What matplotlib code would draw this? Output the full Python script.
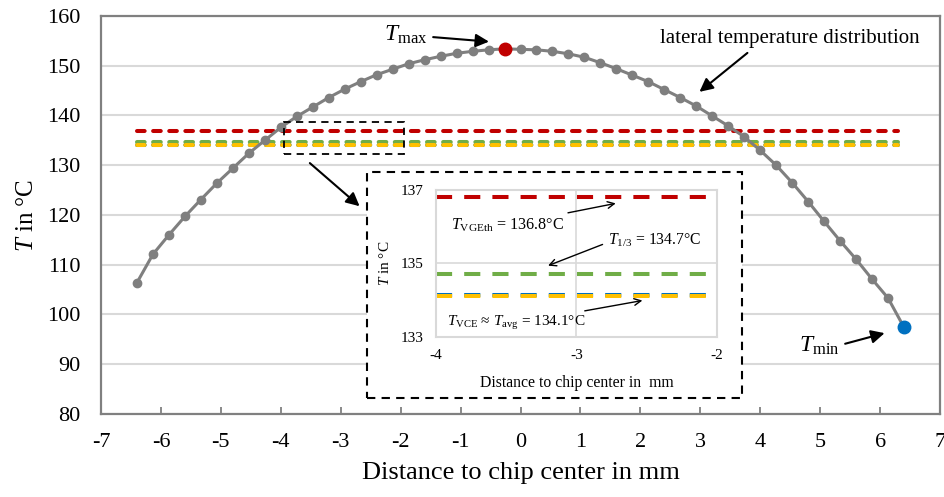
import numpy as np
import matplotlib
matplotlib.use("Agg")
import matplotlib.pyplot as plt
from matplotlib.patches import Rectangle

plt.rcParams["font.family"] = ["Liberation Serif", "DejaVu Serif"]
plt.rcParams["mathtext.fontset"] = "custom"
plt.rcParams["mathtext.rm"] = "Liberation Serif"
plt.rcParams["mathtext.it"] = "Liberation Serif:italic"
plt.rcParams["axes.unicode_minus"] = False

# Lateral temperature profile across the chip (49 points, 0.2667 mm pitch)
position_mm = np.linspace(-6.4, 6.4, 49)
temperature = [
    106.4, 112.1, 116.0, 119.7, 123.1, 126.4, 129.4, 132.4, 135.0, 137.6,
    139.8, 141.7, 143.6, 145.3, 146.8, 148.2, 149.3, 150.4, 151.2, 151.9,
    152.5, 152.9, 153.2, 153.4, 153.3, 153.2, 152.9, 152.4, 151.7, 150.6,
    149.4, 148.1, 146.8, 145.2, 143.6, 141.9, 139.9, 137.9, 135.7, 133.0,
    130.0, 126.5, 122.7, 118.7, 114.8, 111.1, 107.1, 103.3, 97.4,
]
i_max = int(np.argmax(temperature))
i_min = int(np.argmin(temperature))

# Characteristic temperatures
t_vgeth = 136.8
t_13 = 134.7
t_vce = 134.14
t_avg = 134.1
ref_span = [-6.4, 6.3]

gray = "#7f7f7f"
red = "#c00000"
green = "#70ad47"
yellow = "#ffc000"
blue = "#0070c0"
grid_c = "#d9d9d9"

fig = plt.figure(figsize=(9.44, 4.97), dpi=100)
ax = fig.add_axes([101 / 944, 1 - 414 / 497, 839 / 944, 398 / 497])

ax.set_xlim(-7, 7)
ax.set_ylim(80, 160)
ax.set_xticks(np.arange(-7, 8, 1))
ax.set_yticks(np.arange(80, 161, 10))
ax.grid(axis="y", color=grid_c, lw=1.5)
ax.set_axisbelow(True)
for s in ax.spines.values():
    s.set_color("#808080")
    s.set_linewidth(1.6)
ax.tick_params(axis="x", direction="in", length=5, width=1.3, color="#808080",
               labelsize=16, pad=14)
ax.tick_params(axis="y", length=0, labelsize=16, pad=15)
ax.set_xlabel("Distance to chip center in mm", fontsize=19, labelpad=7)
ax.set_ylabel(r"$T$ in °C", fontsize=18, labelpad=6)

main_dash = dict(lw=2.9, dash_capstyle="round", dashes=(1.9, 2.1))
ax.plot(ref_span, [t_vgeth] * 2, color=red, **main_dash)
ax.plot(ref_span, [t_13] * 2, color=green, **main_dash)
ax.plot(ref_span, [t_vce] * 2, color=blue, **main_dash)
ax.plot(ref_span, [t_avg] * 2, color=yellow, **main_dash)

ax.plot(position_mm, temperature, color=gray, lw=2.2, marker="o", ms=6,
        zorder=4)
ax.plot(position_mm[i_max], temperature[i_max], "o", color=red, ms=9, zorder=5)
ax.plot(position_mm[i_min], temperature[i_min], "o", color=blue, ms=9, zorder=5)

# zoom window
ax.add_patch(Rectangle((-3.95, 132.2), 2.0, 6.5, fill=False, ls=(0, (4, 3)),
                       lw=1.3, ec="black", zorder=6))
arrow = dict(arrowstyle="-|>", color="black", lw=1.5, mutation_scale=20)
ax.annotate("", xy=(-2.65, 121.4), xytext=(-3.55, 130.8), arrowprops=arrow)

ax.annotate(r"$T_{\mathrm{max}}$", xy=(-0.48, 154.8), xytext=(-1.55, 156.2),
            ha="right", va="center", fontsize=17, arrowprops=arrow)
ax.annotate("lateral temperature distribution", xy=(2.95, 144.4),
            xytext=(2.32, 155.4), ha="left", va="center", fontsize=15,
            arrowprops=dict(arrow, relpos=(0.36, 0.0)))
ax.annotate(r"$T_{\mathrm{min}}$", xy=(6.12, 96.4), xytext=(4.65, 93.6),
            ha="left", va="center", fontsize=17,
            arrowprops=dict(arrow, relpos=(1.0, 0.55)))

# white dashed frame behind the inset
fig.patches.append(Rectangle((367 / 944, 1 - 398 / 497), 375 / 944, 226 / 497,
                             transform=fig.transFigure, fc="white", ec="black",
                             lw=1.5, ls=(0, (4, 3)), zorder=1))

ins = fig.add_axes([436 / 944, 1 - 336.7 / 497, 280.7 / 944, 146.7 / 497])
ins.set_zorder(3)
ins.set_xlim(-4, -2)
ins.set_ylim(133, 137)
ins.set_xticks([-4, -3, -2])
ins.set_yticks([133, 135, 137])
ins.grid(color=grid_c, lw=1.2)
ins.set_axisbelow(True)
for s in ins.spines.values():
    s.set_color(grid_c)
    s.set_linewidth(1.5)
ins.tick_params(length=0, labelsize=11, pad=9)
ins.set_xlabel("Distance to chip center in  mm", fontsize=11.3, labelpad=9)
ins.set_ylabel(r"$T$ in °C", fontsize=11, labelpad=6)

inset_dash = dict(lw=2.9, dash_capstyle="butt", dashes=(4.0, 3.0))
ins.plot([-4, -2], [t_vgeth] * 2, color=red, **inset_dash)
ins.plot([-4, -2], [t_13] * 2, color=green, **inset_dash)
ins.plot([-4, -2], [t_vce] * 2, color=blue, **inset_dash)
ins.plot([-4, -2], [t_avg] * 2, color=yellow, **inset_dash)

thin = dict(arrowstyle="->", color="black", lw=1.0, mutation_scale=12)
ins.annotate(r"$T_{\mathrm{VGEth}}$ = 136.8°C", xy=(-2.70, 136.65),
             xytext=(-3.895, 136.05), ha="left", va="center", fontsize=11.6,
             arrowprops=thin)
ins.annotate(r"$T_{\mathrm{1/3}}$ = 134.7°C", xy=(-3.22, 134.91),
             xytext=(-2.775, 135.62), ha="left", va="center", fontsize=11.3,
             arrowprops=dict(thin, relpos=(0.0, 0.4)))
ins.annotate(r"$T_{\mathrm{VCE}}$ ≈ $T_{\mathrm{avg}}$ = 134.1°C",
             xy=(-2.51, 134.0), xytext=(-3.92, 133.37), ha="left",
             va="center", fontsize=11, arrowprops=thin)

fig.savefig("out.png", dpi=100)
